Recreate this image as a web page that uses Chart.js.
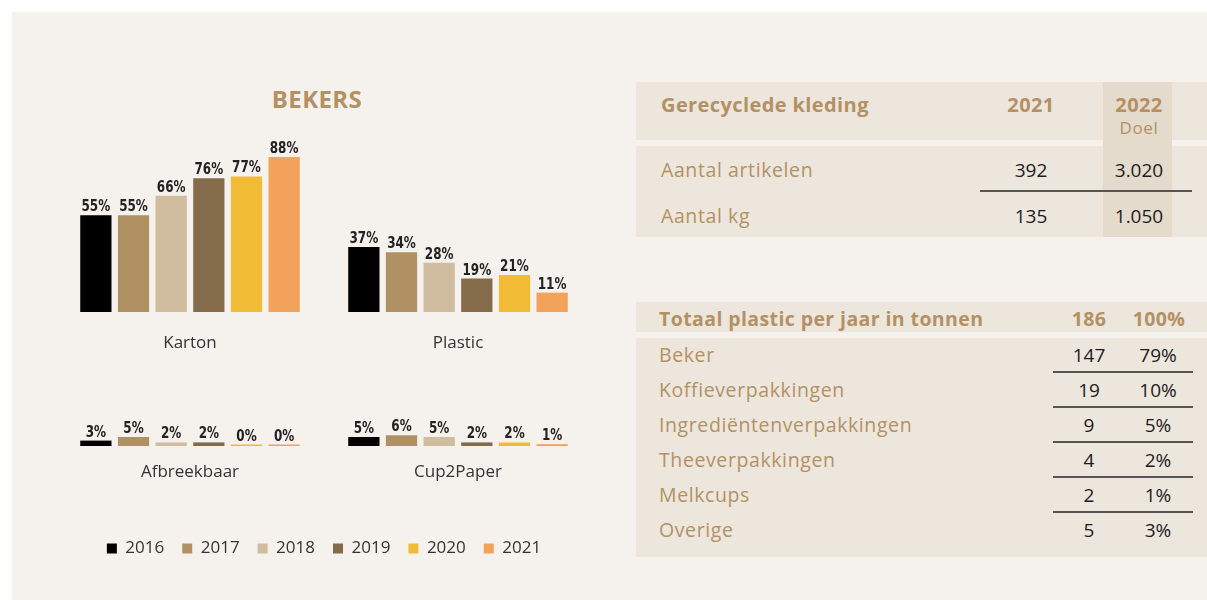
<!DOCTYPE html>
<html>
<head>
<meta charset="utf-8">
<script src="https://cdn.jsdelivr.net/npm/chart.js@4.4.1/dist/chart.umd.min.js"></script>
<style>
  body { margin: 0; width: 1207px; height: 600px; background: #fff; overflow: hidden; font-family: "Open Sans", Lato, sans-serif; }
  .abs { position: absolute; }
  .panel { left: 12px; top: 12px; width: 1195px; height: 588px; background: #f5f2ed; }
  .band { background: #ede6dd; }
  .hi { background: #e4dbcc; }
  .rule { background: #555; height: 1.5px; }
  .t { position: absolute; height: 24px; line-height: 24px; white-space: nowrap; }
  .gold { color: #b39164; letter-spacing: 0.6px; }
  .gold.bold { letter-spacing: 0.4px; }
  .dark { color: #1c1c1c; }
  .bold { font-weight: 700; }
  .chart { position: absolute; }
</style>
</head>
<body>
<div class="abs panel"></div>
<div class="chart" style="left:40px;top:120px;width:568px;height:242px"><canvas id="topChart"></canvas></div>
<div class="chart" style="left:34px;top:390px;width:580px;height:177px"><canvas id="bottomChart"></canvas></div>
<div id="tables"></div>

<script>
// bekers chart data
var years = ['2016', '2017', '2018', '2019', '2020', '2021'];
var topCategories = ['Karton', 'Plastic'];
var bottomCategories = ['Afbreekbaar', 'Cup2Paper'];
var karton = [55, 55, 66, 76, 77, 88];
var plastic = [37, 34, 28, 19, 21, 11];
var afbreekbaar = [3, 5, 2, 2, 0, 0];
var cup2paper = [5, 6, 5, 2, 2, 1];
var yearColours = ['#000000', '#b09163', '#d0bc9e', '#846b4a', '#f2bb36', '#f2a25a'];

// tables
var kledingHeader = ['Gerecyclede kleding', '2021', '2022'];
var kledingRows = ['Aantal artikelen', 'Aantal kg'];
var kleding2021 = ['392', '135'];
var kleding2022 = ['3.020', '1.050'];
var plasticHeader = ['Totaal plastic per jaar in tonnen', '186', '100%'];
var plasticRows = ['Beker', 'Koffieverpakkingen', 'Ingrediëntenverpakkingen', 'Theeverpakkingen', 'Melkcups', 'Overige'];
var plasticTonnen = ['147', '19', '9', '4', '2', '5'];
var plasticShare = ['79%', '10%', '5%', '2%', '1%', '3%'];

// little plugin that writes the percentage above each bar (condensed look)
var valueLabels = {
    id: 'valueLabels',
    afterDatasetsDraw: function(chart) {
        var ctx = chart.ctx;
        chart.data.datasets.forEach(function(ds, i) {
            chart.getDatasetMeta(i).data.forEach(function(bar, j) {
                ctx.save();
                ctx.translate(bar.x, bar.y - 4);
                ctx.scale(0.75, 1);
                ctx.font = 'bold 16px "DejaVu Sans"';
                ctx.fillStyle = '#222';
                ctx.textAlign = 'center';
                ctx.textBaseline = 'alphabetic';
                ctx.fillText(ds.data[j] + '%', 0, 0);
                ctx.restore();
            });
        });
    }
};

function makeDatasets(a, b) {
    return years.map(function(year, i) {
        return {
            label: year,
            data: [a[i], b[i]],
            backgroundColor: yearColours[i],
            categoryPercentage: 0.843,
            barPercentage: 0.83,
            minBarLength: 1.5
        };
    });
}

function makeChart(id, labels, datasets, yMax, opts) {
    return new Chart(document.getElementById(id), {
        type: 'bar',
        data: { labels: labels, datasets: datasets },
        options: {
            responsive: true,
            maintainAspectRatio: false,
            animation: false,
            layout: { padding: { top: opts.padTop, left: opts.padLeft, right: opts.padRight, bottom: 0 } },
            plugins: {
                tooltip: { enabled: false },
                legend: opts.legend
            },
            scales: {
                x: {
                    grid: { display: false, drawTicks: false },
                    border: { display: false },
                    ticks: { color: '#333', padding: opts.tickPad, font: { family: 'Open Sans', size: 17 } },
                    afterFit: function(axis) { axis.height = opts.axisHeight; }
                },
                y: { display: false, min: 0, max: yMax }
            }
        },
        plugins: [valueLabels]
    });
}

makeChart('topChart', topCategories, makeDatasets(karton, plastic), 100,
    { padTop: 16, padLeft: 16, padRight: 16, tickPad: 21, axisHeight: 50, legend: { display: false } });

// canvas a bit wider and off-centre so the legend sits a little further left, bars stay put
makeChart('bottomChart', bottomCategories, makeDatasets(afbreekbaar, cup2paper), 20,
    { padTop: 20, padLeft: 22, padRight: 22, tickPad: 16, axisHeight: 76, legend: {
        display: true,
        position: 'bottom',
        labels: { boxWidth: 10, boxHeight: 10, padding: 18, color: '#333', font: { family: 'Open Sans', size: 17 } }
    } });

// right hand side tables + title, plain html
var holder = document.getElementById('tables');
function box(x, y, w, h, cls) {
    var d = document.createElement('div');
    d.className = 'abs ' + cls;
    d.style.left = x + 'px'; d.style.top = y + 'px';
    d.style.width = w + 'px'; d.style.height = h + 'px';
    holder.appendChild(d);
}
function put(text, x, y, cls, size, align) {
    var d = document.createElement('div');
    d.className = 't ' + cls;
    d.textContent = text;
    d.style.fontSize = size + 'px';
    d.style.top = (y - 12) + 'px';
    if (align === 'center') {
        d.style.left = (x - 100) + 'px'; d.style.width = '200px'; d.style.textAlign = 'center';
    } else {
        d.style.left = x + 'px';
    }
    holder.appendChild(d);
}

put('BEKERS', 317, 99, 'gold bold', 24, 'center');

box(636, 82, 571, 58, 'band');
box(636, 146, 571, 91, 'band');
box(1103, 82, 69, 155, 'hi');
put(kledingHeader[0], 661, 105, 'gold bold', 20);
put(kledingHeader[1], 1031, 105, 'gold bold', 20, 'center');
put(kledingHeader[2], 1139, 105, 'gold bold', 20, 'center');
put('Doel', 1139, 128, 'gold', 17, 'center');
kledingRows.forEach(function(r, i) {
    var y = 170 + i * 46;
    put(r, 661, y, 'gold', 19.5);
    put(kleding2021[i], 1031, y, 'dark', 19, 'center');
    put(kleding2022[i], 1139, y, 'dark', 19, 'center');
});
box(980, 190, 212, 1.5, 'rule');

box(636, 302, 571, 30, 'band');
box(636, 338, 571, 219, 'band');
put(plasticHeader[0], 659, 319, 'gold bold', 19.5);
put(plasticHeader[1], 1089, 319, 'gold bold', 19.5, 'center');
put(plasticHeader[2], 1159, 319, 'gold bold', 19.5, 'center');
plasticRows.forEach(function(r, i) {
    var y = 355 + i * 35;
    put(r, 659, y, 'gold', 19.5);
    put(plasticTonnen[i], 1089, y, 'dark', 19, 'center');
    put(plasticShare[i], 1158, y, 'dark', 19, 'center');
    if (i < plasticRows.length - 1) box(1053, y + 16, 140, 1.5, 'rule');
});
</script>
</body>
</html>
